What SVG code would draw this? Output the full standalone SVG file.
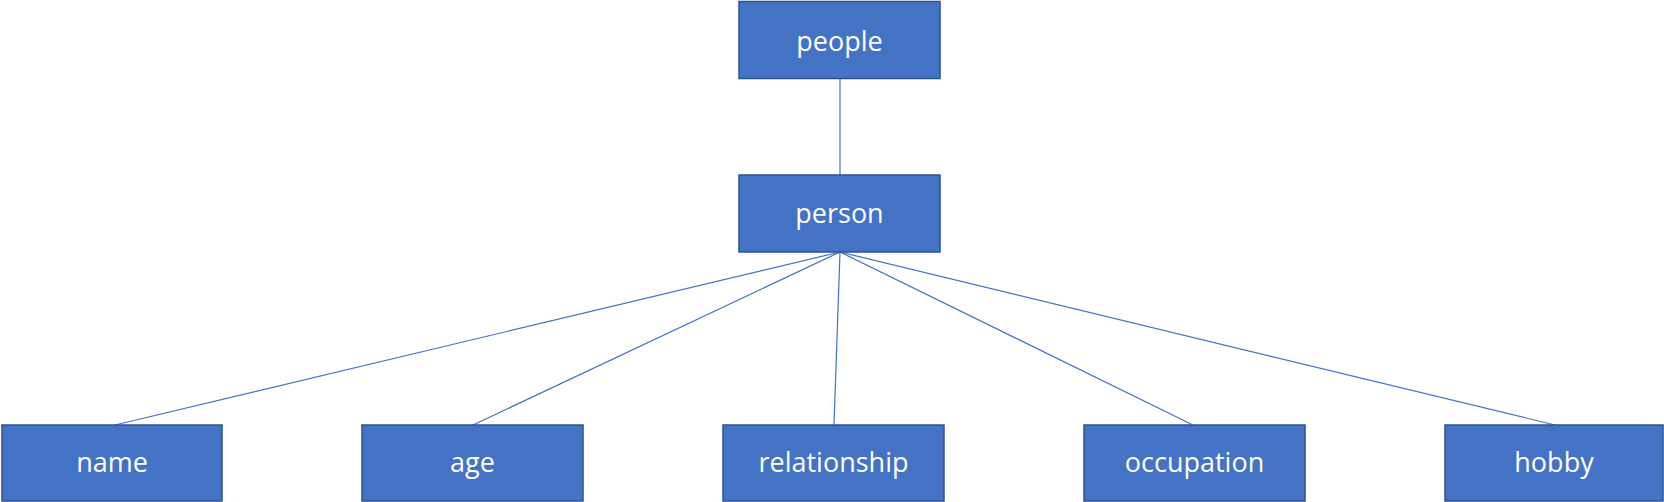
<svg xmlns="http://www.w3.org/2000/svg" width="1664" height="502" viewBox="0 0 1664 502">
<style>
.box{fill:#4472C4;stroke:#2F528F;stroke-width:1.5}
.lbl{font-family:"Open Sans","Noto Sans",sans-serif;font-size:27px;fill:#fff;text-anchor:middle}
.edge{stroke:#4472C4;stroke-width:1.2;fill:none}
</style>
<rect width="1664" height="502" fill="#fff"/>
<g id="connectors">
<line class="edge" x1="840" y1="78" x2="840" y2="175"/>
<line class="edge" x1="840" y1="252" x2="115" y2="425"/>
<line class="edge" x1="840" y1="252" x2="473" y2="425"/>
<line class="edge" x1="840" y1="252" x2="834" y2="425"/>
<line class="edge" x1="840" y1="252" x2="1193" y2="425"/>
<line class="edge" x1="840" y1="252" x2="1555" y2="425"/>
</g>
<g id="people"><rect class="box" x="739" y="1.5" width="201" height="77"/><text class="lbl" x="839.5" y="51">people</text></g>
<g id="person"><rect class="box" x="739" y="175" width="201" height="77"/><text class="lbl" x="839.5" y="223">person</text></g>
<g id="name"><rect class="box" x="2" y="425" width="220" height="76"/><text class="lbl" x="112" y="472">name</text></g>
<g id="age"><rect class="box" x="362" y="425" width="221" height="76"/><text class="lbl" x="472.5" y="472">age</text></g>
<g id="relationship"><rect class="box" x="723" y="425" width="221" height="76"/><text class="lbl" x="833.5" y="472">relationship</text></g>
<g id="occupation"><rect class="box" x="1084" y="425" width="221" height="76"/><text class="lbl" x="1194.5" y="472">occupation</text></g>
<g id="hobby"><rect class="box" x="1445" y="425" width="218" height="76"/><text class="lbl" x="1554" y="472">hobby</text></g>
</svg>
